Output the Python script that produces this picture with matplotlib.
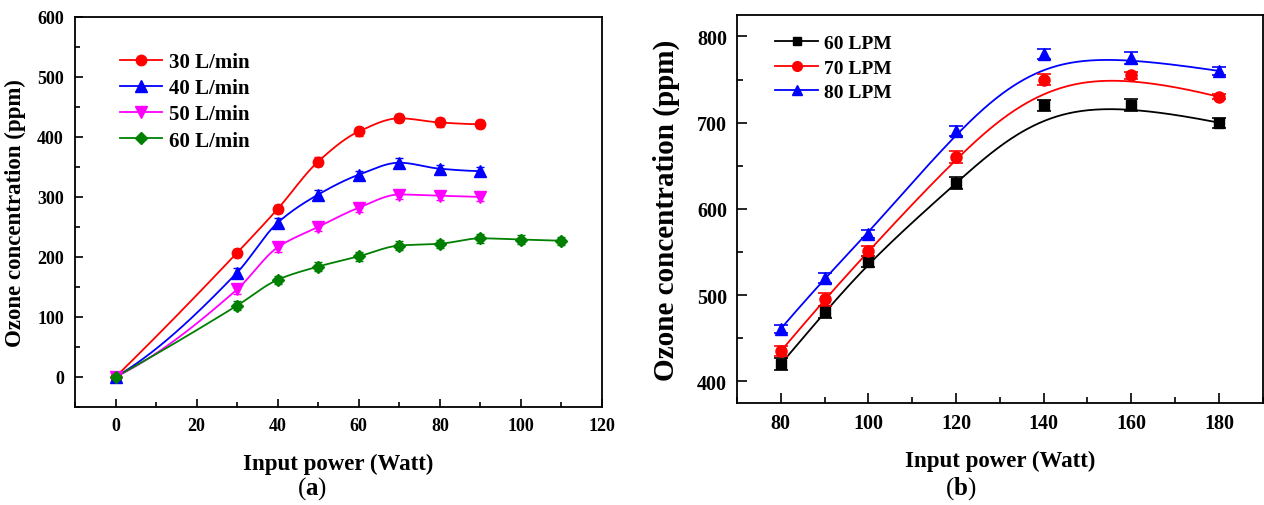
import numpy as np
import matplotlib
matplotlib.use('Agg')
import matplotlib.pyplot as plt
from matplotlib.ticker import MultipleLocator

plt.rcParams['font.family'] = ['Liberation Serif', 'DejaVu Serif']
plt.rcParams['font.weight'] = 'bold'
plt.rcParams['mathtext.fontset'] = 'custom'
plt.rcParams['mathtext.bf'] = 'Liberation Serif:bold'
plt.rcParams['mathtext.rm'] = 'Liberation Serif'

# (a) ozone vs power for several flow rates
power_a = [0, 30, 40, 50, 60, 70, 80, 90]
power_a60 = [0, 30, 40, 50, 60, 70, 80, 90, 100, 110]
o3_30 = [0, 207, 280, 359, 409, 431, 424, 421]
o3_40 = [0, 174, 257, 304, 337, 357, 347, 343]
o3_50 = [0, 146, 216, 250, 282, 304, 302, 300]
o3_60 = [0, 119, 162, 184, 201, 219, 222, 231, 229, 227]
err_30 = [5, 7, 7, 7, 7, 7, 7, 7]
err_40 = [5, 8, 8, 7, 7, 8, 7, 7]
err_50 = [5, 8, 8, 7, 7, 8, 7, 7]
err_60 = [5, 7, 7, 7, 7, 7, 7, 7, 7, 7]

# (b) ozone vs power, higher power range
power_b = [80, 90, 100, 120, 140, 160, 180]
lpm_60 = [420, 480, 539, 630, 720, 720, 700]
lpm_70 = [435, 495, 551, 660, 750, 755, 730]
lpm_80 = [461, 520, 571, 690, 780, 775, 760]
err_b60 = [7, 7, 6, 7, 6, 7, 6]
err_b70 = [6, 7, 6, 7, 6, 4, 3]
err_b80 = [5, 6, 5, 6, 6, 7, 5]


def pchip(x, y, n=400):
    x = np.asarray(x, float)
    y = np.asarray(y, float)
    h = np.diff(x)
    d = np.diff(y) / h
    m = len(x)
    s = np.zeros(m)
    for i in range(1, m - 1):
        if d[i - 1] * d[i] > 0:
            w1 = 2 * h[i] + h[i - 1]
            w2 = h[i] + 2 * h[i - 1]
            s[i] = (w1 + w2) / (w1 / d[i - 1] + w2 / d[i])
    for i, j, k in ((0, 0, 1), (m - 1, -1, -2)):
        hj, hk = h[j], h[k]
        v = ((2 * hj + hk) * d[j] - hj * d[k]) / (hj + hk)
        if np.sign(v) != np.sign(d[j]):
            v = 0
        elif np.sign(d[j]) != np.sign(d[k]) and abs(v) > 3 * abs(d[j]):
            v = 3 * d[j]
        s[i] = v
    xs = np.linspace(x[0], x[-1], n)
    k = np.clip(np.searchsorted(x, xs) - 1, 0, m - 2)
    t = (xs - x[k]) / h[k]
    h00 = 2 * t**3 - 3 * t**2 + 1
    h10 = t**3 - 2 * t**2 + t
    h01 = -2 * t**3 + 3 * t**2
    h11 = t**3 - t**2
    ys = h00 * y[k] + h10 * h[k] * s[k] + h01 * y[k + 1] + h11 * h[k] * s[k + 1]
    return xs, ys


def bspline(x, y, n=300):
    # clamped cubic B-spline using data as control points
    P = np.column_stack([x, y]).astype(float)
    m = len(P)
    knots = np.concatenate([[0] * 4, np.arange(1, m - 3), [m - 3] * 4]).astype(float)
    ts = np.linspace(0, m - 3, n)
    ts[-1] -= 1e-9

    def basis(i, k, t):
        if k == 0:
            return ((knots[i] <= t) & (t < knots[i + 1])).astype(float)
        out = np.zeros_like(t)
        d1 = knots[i + k] - knots[i]
        d2 = knots[i + k + 1] - knots[i + 1]
        if d1 > 0:
            out += (t - knots[i]) / d1 * basis(i, k - 1, t)
        if d2 > 0:
            out += (knots[i + k + 1] - t) / d2 * basis(i + 1, k - 1, t)
        return out

    pts = sum(basis(i, 3, ts)[:, None] * P[i] for i in range(m))
    return pts[:, 0], pts[:, 1]


fig = plt.figure(figsize=(12.64, 5.06), dpi=100)
ax1 = fig.add_axes([0.0593, 0.1937, 0.417, 0.771])
ax2 = fig.add_axes([0.583, 0.2016, 0.416, 0.767])

series_a = [
    (power_a, o3_30, err_30, '#ff0000', 'o', 7.5, '30 L/min'),
    (power_a, o3_40, err_40, '#0000ff', '^', 8, '40 L/min'),
    (power_a, o3_50, err_50, '#ff00ff', 'v', 8, '50 L/min'),
    (power_a60, o3_60, err_60, '#008000', 'D', 6.5, '60 L/min'),
]
for x, y, e, c, mk, ms, lab in series_a:
    xs, ys = pchip(x, y)
    ax1.plot(xs, ys, color=c, lw=1.3, zorder=2)
    ax1.errorbar(x, y, yerr=e, fmt=mk, color=c, ms=ms, capsize=3, elinewidth=1, capthick=1, zorder=3)
    ax1.plot([], [], color=c, marker=mk, ms=ms, lw=1.3, label=lab)

ax1.set_xlim(-10, 120)
ax1.set_ylim(-50, 600)
ax1.xaxis.set_major_locator(MultipleLocator(20))
ax1.xaxis.set_minor_locator(MultipleLocator(10))
ax1.yaxis.set_major_locator(MultipleLocator(100))
ax1.yaxis.set_minor_locator(MultipleLocator(50))
ax1.tick_params(which='both', direction='in', labelsize=13)
ax1.tick_params(which='major', length=6, width=1.2)
ax1.tick_params(which='minor', length=3.5, width=1.2)
ax1.tick_params(axis='x', pad=7)
ax1.tick_params(axis='y', pad=8)
ax1.set_xlabel('Input power (Watt)', fontsize=16.5, fontweight='bold', labelpad=14)
ax1.set_ylabel('Ozone concentration (ppm)', fontsize=16.5, fontweight='bold', labelpad=8)
ax1.legend(loc='upper left', bbox_to_anchor=(0.05, 0.958), frameon=False, fontsize=15,
           handlelength=2.0, handletextpad=0.35, labelspacing=0.3, numpoints=1)

series_b = [
    (lpm_60, err_b60, 'black', 's', 7, '60 LPM'),
    (lpm_70, err_b70, '#ff0000', 'o', 8, '70 LPM'),
    (lpm_80, err_b80, '#0000ff', '^', 8.5, '80 LPM'),
]
for y, e, c, mk, ms, lab in series_b:
    xs, ys = bspline(power_b, y)
    ax2.plot(xs, ys, color=c, lw=1.3, zorder=2)
    ax2.errorbar(power_b, y, yerr=e, fmt=mk, color=c, ms=ms, capsize=5, elinewidth=1.2, capthick=1.2, zorder=3)
    ax2.plot([], [], color=c, marker=mk, ms=ms - 1, lw=1.3, label=lab)

ax2.set_xlim(70, 190)
ax2.set_ylim(375, 825)
ax2.xaxis.set_major_locator(MultipleLocator(20))
ax2.xaxis.set_minor_locator(MultipleLocator(10))
ax2.yaxis.set_major_locator(MultipleLocator(100))
ax2.yaxis.set_minor_locator(MultipleLocator(50))
ax2.tick_params(which='both', direction='in', labelsize=14.5)
ax2.tick_params(which='major', length=7, width=1.2)
ax2.tick_params(which='minor', length=4, width=1.2)
ax2.tick_params(axis='x', pad=7)
ax2.tick_params(axis='y', pad=7)
ax2.set_xlabel('Input power (Watt)', fontsize=16.5, fontweight='bold', labelpad=12)
ax2.set_ylabel('Ozone concentration (ppm)', fontsize=21, fontweight='bold', labelpad=12)
ax2.legend(loc='upper left', bbox_to_anchor=(0.04, 0.995), frameon=False, fontsize=14,
           handlelength=2.2, handletextpad=0.3, labelspacing=0.36, numpoints=1)

for ax in (ax1, ax2):
    for s in ax.spines.values():
        s.set_linewidth(1.3)

fig.text(312 / 1264, 1 - 489 / 506, r'($\mathbf{a}$)', ha='center', va='center', fontsize=18, fontweight='normal')
fig.text(961 / 1264, 1 - 489 / 506, r'($\mathbf{b}$)', ha='center', va='center', fontsize=18, fontweight='normal')

fig.savefig('out.png', dpi=100)
